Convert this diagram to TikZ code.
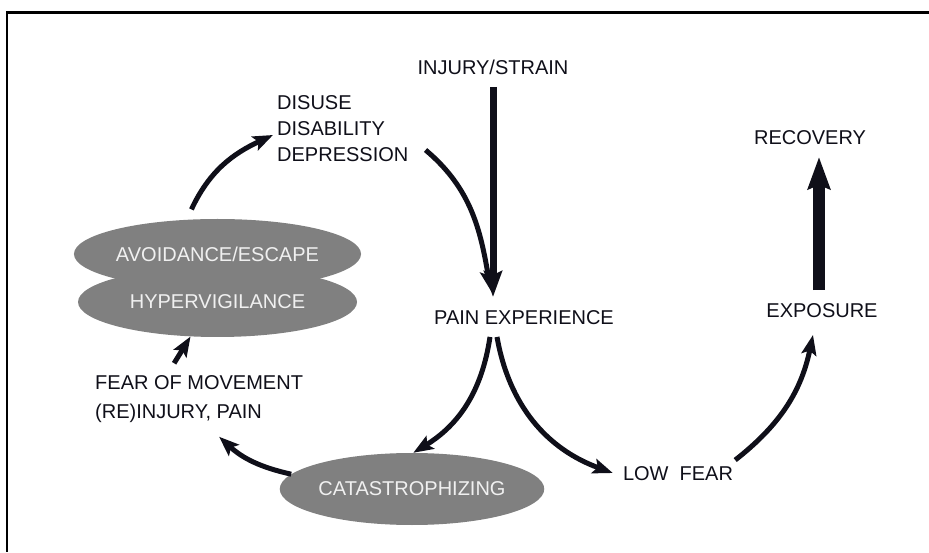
\documentclass[tikz,border=0pt]{standalone}
\usepackage{fontspec}
\setmainfont{Liberation Sans}
\usetikzlibrary{arrows.meta, shapes.geometric}

\definecolor{ink}{RGB}{15,15,25}
\definecolor{ovalgray}{RGB}{128,128,128}

\begin{document}
\begin{tikzpicture}[x=1pt,y=1pt,>={Stealth[length=20pt,width=15pt,inset=4pt]},
  word/.style={font=\fontsize{20}{26}\selectfont,text=ink,text height=14.5pt,text depth=0pt,
    inner xsep=10pt,inner ysep=12.5pt},
  lines/.style={font=\fontsize{20}{#1}\selectfont,text=ink,align=left,inner sep=0pt,anchor=west},
  oval/.style={ellipse,fill=ovalgray,text=white!94!black,font=\fontsize{20}{26}\selectfont,inner sep=0pt},
  flow/.style={->,line width=5pt,ink}]
  \useasboundingbox (0,0) rectangle (929,552);
  \draw[line width=2.5pt] (929,539.5) -- (7,539.5) -- (7,0);

  \node[word] (injury) at (493,485) {INJURY/STRAIN};
  \node[word] (pain) at (524,235) {PAIN EXPERIENCE};
  \node[word] (lowfear) at (678,79) {LOW~~FEAR};
  \node[word] (exposure) at (822,242) {EXPOSURE};
  \node[word] (recovery) at (810,415) {RECOVERY};
  \node[lines=26] (disuse) at (277,423) {DISUSE\\DISABILITY\\DEPRESSION};
  \node[lines=29] (fear) at (95,152.5) {FEAR OF MOVEMENT\\(RE)INJURY, PAIN};
  \node[oval,minimum width=279pt,minimum height=70pt] (hyper) at (217.5,250) {HYPERVIGILANCE};
  \node[oval,minimum width=279pt,minimum height=70pt] (avoid) at (217.5,298) {AVOIDANCE/ESCAPE};
  \node[oval,minimum width=251pt,minimum height=72pt] (catas) at (412,63) {CATASTROPHIZING};

  \path[flow]
    (injury.south) edge[line width=7pt,>={Stealth[length=26pt,width=18pt,inset=4pt]}] ([xshift=-31pt]pain.north)
    ([xshift=17pt,yshift=-21pt]disuse.east) edge[out=-40,in=100] ([xshift=-33pt,yshift=6pt]pain.north)
    ([yshift=10pt]avoid.127) edge[out=65,in=205] ([xshift=-4pt,yshift=-6pt]disuse.west)
    ([xshift=-25pt,yshift=12.5pt]fear.north) edge (hyper.232)
    (catas.173) edge[bend left=15] ([xshift=20pt,yshift=-13.5pt]fear.south)
    ([xshift=-34pt]pain.south) edge[bend left=25] (catas.88)
    ([xshift=-27pt]pain.south) edge[out=-80,in=160] (lowfear.west)
    ([xshift=-8pt,yshift=-7pt]lowfear.north east) edge[bend right=20] ([xshift=-9pt,yshift=-5pt]exposure.south)
    ([xshift=-3pt]exposure.north) edge[line width=12pt,>={Stealth[length=32pt,width=22pt,inset=4pt]}] ([xshift=9pt]recovery.south);
\end{tikzpicture}
\end{document}
